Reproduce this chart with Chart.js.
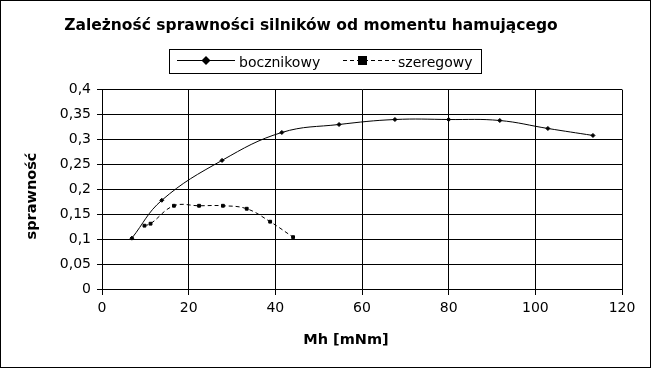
<!DOCTYPE html>
<html>
<head>
<meta charset="utf-8">
<script src="https://cdn.jsdelivr.net/npm/chart.js@4"></script>
<style>
  body { margin: 0; background: #fff; }
</style>
</head>
<body>
<canvas id="wykres" width="651" height="368"></canvas>
<script>
// dane
const mhBocznikowy = [6.9, 13.8, 27.7, 41.5, 54.7, 67.6, 80.0, 91.8, 102.9, 113.3];
const sprBocznikowy = [0.102, 0.178, 0.258, 0.314, 0.330, 0.340, 0.340, 0.338, 0.322, 0.308];
const mhSzeregowy = [9.8, 11.2, 16.6, 22.4, 27.9, 33.4, 38.8, 44.1];
const sprSzeregowy = [0.127, 0.131, 0.167, 0.167, 0.167, 0.161, 0.135, 0.104];
const xTicks = [0, 20, 40, 60, 80, 100, 120];
const yTicks = [0, 0.05, 0.1, 0.15, 0.2, 0.25, 0.3, 0.35, 0.4];

const font = 'DejaVu Sans';

function toPoints(xs, ys) {
    return xs.map((x, i) => ({x: x, y: ys[i]}));
}

// ramka dookola, tytuly osi i legenda w stylu Excela
const ramka = {
    id: 'ramka',
    afterDraw(chart) {
        const ctx = chart.ctx;
        ctx.save();
        ctx.strokeStyle = '#000';
        ctx.fillStyle = '#000';
        ctx.lineWidth = 1;
        ctx.strokeRect(0.5, 0.5, 650, 367);

        // tytuly osi
        ctx.font = 'bold 14.5px ' + font;
        ctx.textAlign = 'center';
        ctx.textBaseline = 'alphabetic';
        ctx.fillText('Mh [mNm]', 346, 344);
        ctx.save();
        ctx.translate(36, 196);
        ctx.rotate(-Math.PI / 2);
        ctx.fillText('sprawność', 0, 0);
        ctx.restore();

        // legenda
        ctx.strokeRect(169.5, 49.5, 312, 24);
        const ly = 60.5;
        ctx.beginPath();
        ctx.moveTo(177, ly); ctx.lineTo(235, ly);
        ctx.stroke();
        ctx.beginPath();
        ctx.moveTo(206, ly - 4.5); ctx.lineTo(210.5, ly); ctx.lineTo(206, ly + 4.5); ctx.lineTo(201.5, ly);
        ctx.closePath();
        ctx.fill();

        ctx.setLineDash([4, 3]);
        ctx.beginPath();
        ctx.moveTo(343, ly); ctx.lineTo(395, ly);
        ctx.stroke();
        ctx.setLineDash([]);
        ctx.fillRect(358, ly - 4.5, 9, 9);

        ctx.font = '14px ' + font;
        ctx.textAlign = 'left';
        ctx.fillText('bocznikowy', 239, 67);
        ctx.fillText('szeregowy', 398, 67);
        ctx.restore();
    }
};

const ctx = document.getElementById('wykres').getContext('2d');
const chart = new Chart(ctx, {
    type: 'line',
    data: {
        datasets: [{
            label: 'bocznikowy',
            data: toPoints(mhBocznikowy, sprBocznikowy),
            borderColor: '#000',
            backgroundColor: '#000',
            borderWidth: 1,
            tension: 0.4,
            pointStyle: 'rectRot',
            pointRadius: 2,
            pointHoverRadius: 2
        },
        {
            label: 'szeregowy',
            data: toPoints(mhSzeregowy, sprSzeregowy),
            borderColor: '#000',
            backgroundColor: '#000',
            borderWidth: 1,
            borderDash: [4, 3],
            tension: 0.4,
            pointStyle: 'rect',
            pointRadius: 2,
            pointHoverRadius: 2
        }]
    },
    options: {
        responsive: false,
        animation: false,
        layout: { padding: { left: 0, right: 29, top: 0, bottom: 0 } },
        plugins: {
            legend: { display: false },
            tooltip: { enabled: false },
            title: {
                display: true,
                text: 'Zależność sprawności silników od momentu hamującego',
                color: '#000',
                font: { family: font, size: 15.5, weight: 'bold' },
                padding: { top: 17, bottom: 54 }
            }
        },
        scales: {
            x: {
                type: 'linear',
                min: 0, max: 120,
                afterBuildTicks: (s) => { s.ticks = xTicks.map(v => ({value: v})); },
                afterFit: (s) => { s.height = 79; },
                ticks: { color: '#000', font: { family: font, size: 14 }, padding: 5, maxRotation: 0 },
                grid: { color: '#000', tickLength: 6, tickColor: '#000' },
                border: { color: '#000' }
            },
            y: {
                type: 'linear',
                min: 0, max: 0.4,
                afterBuildTicks: (s) => { s.ticks = yTicks.map(v => ({value: v})); },
                afterFit: (s) => { s.width = 102; },
                ticks: {
                    color: '#000', font: { family: font, size: 14 }, padding: 6,
                    callback: (v) => String(Math.round(v * 100) / 100).replace('.', ',')
                },
                grid: { color: '#000', tickLength: 5, tickColor: '#000' },
                border: { color: '#000' }
            }
        }
    },
    plugins: [ramka]
});
</script>
</body>
</html>
